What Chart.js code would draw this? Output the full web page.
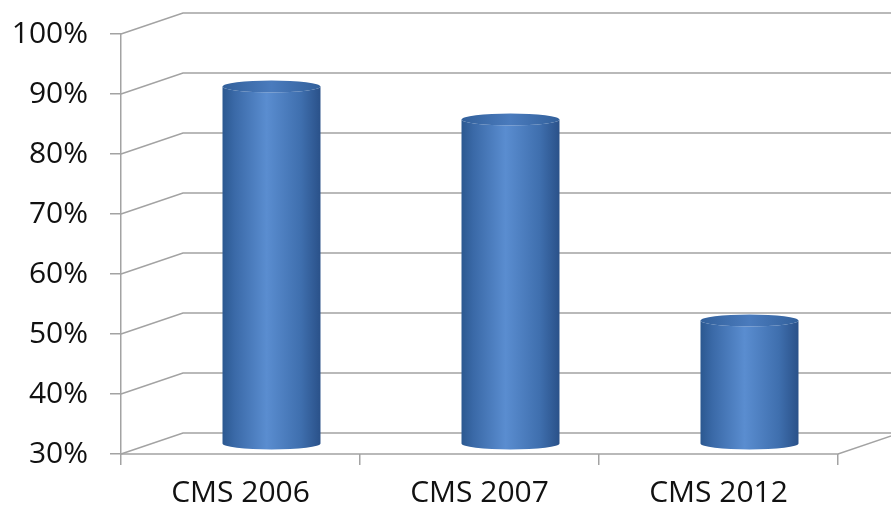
<!DOCTYPE html>
<html>
<head>
<meta charset="utf-8">
<script src="https://cdn.jsdelivr.net/npm/chart.js@4"></script>
<style>
  html, body { margin: 0; padding: 0; background: #fff; }
  #wrap { width: 891px; height: 511px; }
</style>
</head>
<body>
<div id="wrap"><canvas id="chart"></canvas></div>
<script>
// Survey results per year
const categories = ['CMS 2006', 'CMS 2007', 'CMS 2012'];
const shares = [89.5, 84, 50.5];
const yMin = 30;
const yMax = 100;
const yStep = 10;

// Depth of the fake 3D box (back wall offset)
const DEPTH_X = 62;
const DEPTH_Y = -21;
const LINE_COLOR = '#a3a3a3';

// Back wall, side wall and floor lines, then the cylinders
const box3d = {
    id: 'box3d',
    beforeDatasetsDraw(chart) {
        const { ctx, chartArea: a, scales } = chart;
        const y = scales.y;
        ctx.save();
        ctx.strokeStyle = LINE_COLOR;
        ctx.lineWidth = 1.5;
        for (let v = yMin; v <= yMax; v += yStep) {
            const py = y.getPixelForValue(v);
            ctx.beginPath();
            ctx.moveTo(a.left, py);
            ctx.lineTo(a.left + DEPTH_X, py + DEPTH_Y);
            ctx.lineTo(a.right + DEPTH_X, py + DEPTH_Y);
            ctx.stroke();
        }
        // floor front edge + right side
        ctx.beginPath();
        ctx.moveTo(a.left, a.bottom);
        ctx.lineTo(a.right, a.bottom);
        ctx.lineTo(a.right + DEPTH_X, a.bottom + DEPTH_Y);
        ctx.stroke();
        ctx.restore();
    },
    afterDatasetsDraw(chart) {
        const { ctx, scales } = chart;
        const meta = chart.getDatasetMeta(0);
        const floor = scales.y.getPixelForValue(yMin);
        ctx.save();
        meta.data.forEach(bar => {
            const p = bar.getProps(['x', 'y', 'width'], true);
            const cx = p.x + DEPTH_X / 2;
            const top = p.y + DEPTH_Y / 2;
            const bottom = floor + DEPTH_Y / 2;
            const rx = p.width / 2;
            const ry = 6;

            const body = ctx.createLinearGradient(cx - rx, 0, cx + rx, 0);
            body.addColorStop(0, '#2b5890');
            body.addColorStop(0.12, '#3a69a7');
            body.addColorStop(0.45, '#5a8dd0');
            body.addColorStop(0.8, '#3f6fae');
            body.addColorStop(1, '#2a5189');

            ctx.beginPath();
            ctx.moveTo(cx - rx, top);
            ctx.lineTo(cx - rx, bottom);
            ctx.ellipse(cx, bottom, rx, ry, 0, Math.PI, 0, true);
            ctx.lineTo(cx + rx, top);
            ctx.ellipse(cx, top, rx, ry, 0, 0, Math.PI, false);
            ctx.closePath();
            ctx.fillStyle = body;
            ctx.fill();

            const cap = ctx.createLinearGradient(cx - rx, 0, cx + rx, 0);
            cap.addColorStop(0, '#32609b');
            cap.addColorStop(0.5, '#4a7bbd');
            cap.addColorStop(1, '#32609b');
            ctx.beginPath();
            ctx.ellipse(cx, top, rx, ry, 0, 0, Math.PI * 2);
            ctx.fillStyle = cap;
            ctx.fill();
        });
        ctx.restore();
    }
};

new Chart(document.getElementById('chart'), {
    type: 'bar',
    data: {
        labels: categories,
        datasets: [{
            data: shares,
            backgroundColor: 'rgba(0,0,0,0)',
            borderWidth: 0,
            barPercentage: 0.41,
            categoryPercentage: 1
        }]
    },
    options: {
        responsive: true,
        maintainAspectRatio: false,
        animation: false,
        events: [],
        layout: { padding: { top: 34, right: 53, left: 0, bottom: 0 } },
        plugins: {
            legend: { display: false },
            tooltip: { enabled: false }
        },
        scales: {
            x: {
                offset: true,
                grid: {
                    offset: true,
                    drawOnChartArea: false,
                    drawTicks: true,
                    tickLength: 11,
                    color: LINE_COLOR,
                    lineWidth: 1.5
                },
                border: { display: false },
                ticks: {
                    color: '#111',
                    padding: 10,
                    font: { family: 'Open Sans', size: 30 }
                },
                afterFit(scale) {
                    scale.height = 57;
                    scale.paddingLeft = 0;
                    scale.paddingRight = 0;
                }
            },
            y: {
                min: yMin,
                max: yMax,
                grid: {
                    drawOnChartArea: false,
                    drawTicks: true,
                    tickLength: 11,
                    color: LINE_COLOR,
                    lineWidth: 1.5
                },
                border: { display: true, color: LINE_COLOR, width: 1.5 },
                ticks: {
                    stepSize: yStep,
                    color: '#111',
                    padding: 22,
                    font: { family: 'Open Sans', size: 30 },
                    callback: v => v + '%'
                },
                afterFit(scale) {
                    scale.width = 121;
                    scale.paddingTop = 0;
                    scale.paddingBottom = 0;
                }
            }
        }
    },
    plugins: [box3d]
});
</script>
</body>
</html>
